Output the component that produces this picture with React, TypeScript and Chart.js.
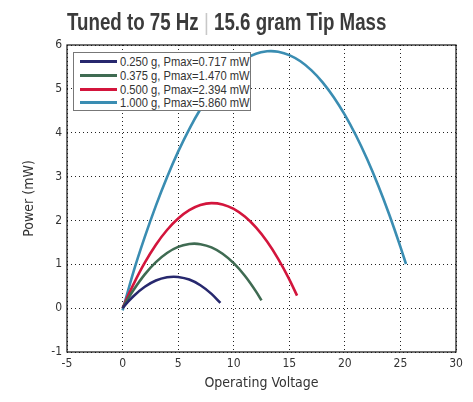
import { useEffect, useRef } from 'react'
import { Chart, registerables } from 'chart.js'

Chart.register(...registerables)

// values (Operating Voltage, Power in mW)
const seriesLabels = [
  '0.250 g, Pmax=0.717 mW',
  '0.375 g, Pmax=1.470 mW',
  '0.500 g, Pmax=2.394 mW',
  '1.000 g, Pmax=5.860 mW',
]
const seriesColors = ['#27286e', '#3f6b52', '#d3153c', '#3a8db2']

const voltage250 = [0, 0.5, 1, 2, 3, 4, 4.6, 5, 6, 7, 8, 8.8]
const power250 = [0, 0.147, 0.278, 0.488, 0.63, 0.705, 0.717, 0.712, 0.651, 0.522, 0.325, 0.119]

const voltage375 = [0, 0.5, 1, 2, 3, 4, 5, 6, 6.45, 7, 8, 9, 10, 11, 12, 12.5]
const power375 = [0, 0.219, 0.42, 0.77, 1.05, 1.258, 1.396, 1.463, 1.47, 1.459, 1.385, 1.24, 1.025, 0.739, 0.382, 0.177]

const voltage500 = [0, 0.5, 1, 2, 3, 4, 5, 6, 7, 8, 9, 10, 11, 12, 13, 14, 15, 15.7]
const power500 = [0, 0.286, 0.555, 1.036, 1.446, 1.781, 2.043, 2.233, 2.35, 2.394, 2.364, 2.262, 2.087, 1.839, 1.518, 1.124, 0.657, 0.286]

const voltage1000 = [0, 1, 2, 3, 4, 5, 6, 7, 8, 9, 10, 11, 12, 13, 13.35, 14, 15, 16, 17, 18, 19, 20, 21, 22, 23, 24, 25, 25.5]
const power1000 = [-0.05, 0.845, 1.624, 2.338, 2.986, 3.568, 4.084, 4.534, 4.919, 5.238, 5.491, 5.678, 5.8, 5.856, 5.86, 5.846, 5.77, 5.629, 5.422, 5.149, 4.81, 4.406, 3.936, 3.4, 2.798, 2.131, 1.398, 1.006]

const xTicks = [-5, 0, 5, 10, 15, 20, 25, 30]
const yTicks = [-1, 0, 1, 2, 3, 4, 5, 6]

const FONT = "'DejaVu Sans Condensed', 'Liberation Sans Narrow', sans-serif"
const HTML_FONT = "'Liberation Sans', Arial, sans-serif"

const toPoints = (xs: number[], ys: number[]) => xs.map((x, i) => ({ x, y: ys[i] }))

const frame = {
  id: 'frame',
  afterDraw(chart: Chart) {
    const { ctx, chartArea } = chart
    ctx.save()
    ctx.strokeStyle = '#111'
    ctx.lineWidth = 1.2
    ctx.strokeRect(chartArea.left, chartArea.top, chartArea.right - chartArea.left, chartArea.bottom - chartArea.top)
    ctx.restore()
  },
}

export default function App() {
  const chartRef = useRef<HTMLCanvasElement | null>(null)

  useEffect(() => {
    document.body.style.margin = '0'
    let chartInstance: Chart | null = null
    if (chartRef.current) {
      const xs = [voltage250, voltage375, voltage500, voltage1000]
      const ys = [power250, power375, power500, power1000]
      chartInstance = new Chart(chartRef.current, {
        type: 'line',
        data: {
          datasets: seriesLabels.map((label, i) => ({
            label,
            data: toPoints(xs[i], ys[i]),
            borderColor: seriesColors[i],
            backgroundColor: seriesColors[i],
            borderWidth: 2.6,
            pointRadius: 0,
            cubicInterpolationMode: 'monotone' as const,
          })),
        },
        options: {
          animation: false,
          responsive: false,
          layout: { padding: { top: 45, right: 17, left: 0, bottom: 0 } },
          plugins: {
            legend: { display: false },
            tooltip: { enabled: false },
          },
          scales: {
            x: {
              type: 'linear',
              min: -5,
              max: 30,
              afterBuildTicks: (axis: any) => {
                axis.ticks = xTicks.map((v) => ({ value: v }))
              },
              afterFit: (axis: any) => {
                axis.height = 50
              },
              grid: { color: '#222', lineWidth: 1, drawTicks: false },
              border: { display: false, dash: [1, 3] },
              ticks: { color: '#333', padding: 5, font: { family: FONT, size: 12 } },
              title: {
                display: true,
                text: 'Operating Voltage',
                color: '#333',
                padding: { top: 0, bottom: 10 },
                font: { family: FONT, size: 14 },
              },
            },
            y: {
              type: 'linear',
              min: -1,
              max: 6,
              afterBuildTicks: (axis: any) => {
                axis.ticks = yTicks.map((v) => ({ value: v }))
              },
              afterFit: (axis: any) => {
                axis.width = 67
              },
              grid: { color: '#222', lineWidth: 1, drawTicks: false },
              border: { display: false, dash: [1, 3] },
              ticks: { color: '#333', padding: 5, font: { family: FONT, size: 12 } },
              title: {
                display: true,
                text: 'Power (mW)',
                color: '#333',
                padding: { top: 21, bottom: 0 },
                font: { family: FONT, size: 14 },
              },
            },
          },
        },
        plugins: [frame],
      })
    }
    return () => {
      if (chartInstance) chartInstance.destroy()
    }
  }, [])

  return (
    <div style={{ position: 'fixed', left: 0, top: 0, width: 473, height: 402, background: '#fff' }}>
      <canvas ref={chartRef} width={473} height={402} style={{ position: 'absolute', left: 0, top: 0 }} />
      <div
        style={{
          position: 'absolute',
          left: 67,
          top: 7,
          fontFamily: HTML_FONT,
          fontWeight: 'bold',
          fontSize: 24,
          color: '#3b3b3b',
          whiteSpace: 'nowrap',
          lineHeight: '30px',
          transform: 'scaleX(0.78)',
          transformOrigin: 'left top',
        }}
      >
        Tuned to 75 Hz <span style={{ color: '#c8c8c8', fontWeight: 'normal' }}>|</span> 15.6 gram Tip Mass
      </div>
      <div
        style={{
          position: 'absolute',
          left: 73,
          top: 52,
          width: 178,
          height: 59,
          boxSizing: 'border-box',
          border: '1px solid #777',
          background: '#fff',
          padding: '2px 0 0 6px',
          fontFamily: HTML_FONT,
          fontSize: 13,
          color: '#333',
          whiteSpace: 'nowrap',
        }}
      >
        {seriesLabels.map((label, i) => (
          <div key={label} style={{ display: 'flex', alignItems: 'center', height: 13.7 }}>
            <span style={{ display: 'inline-block', width: 37, height: 3, background: seriesColors[i], marginRight: 3, flexShrink: 0 }} />
            <span style={{ lineHeight: '13px', display: 'inline-block', transform: 'scaleX(0.86)', transformOrigin: 'left center' }}>{label}</span>
          </div>
        ))}
      </div>
    </div>
  )
}
